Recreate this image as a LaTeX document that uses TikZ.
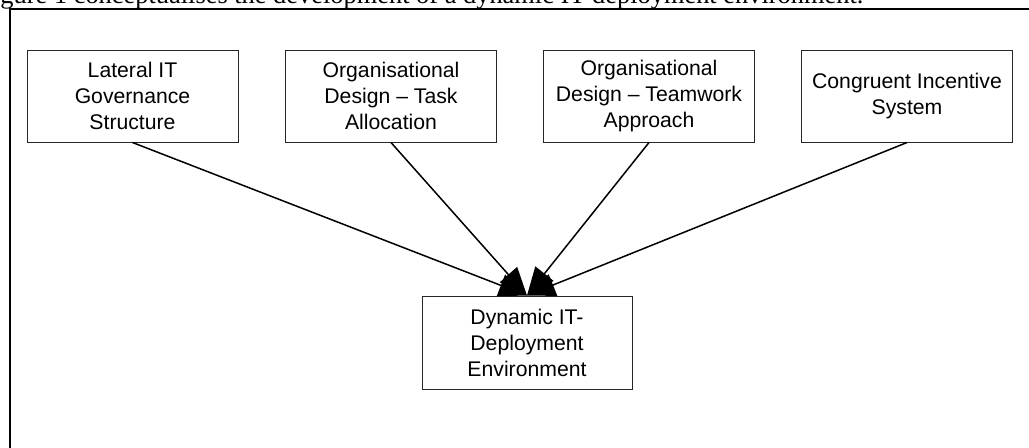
\documentclass[tikz,border=0pt]{standalone}
\usepackage{fontspec}
\setmainfont{Liberation Serif}
\setsansfont{Liberation Sans}
\usetikzlibrary{arrows.meta}

\tikzset{every picture/.style={line width=0.5pt}}
\tikzset{
  factor/.style={draw=black!85, fill=white, align=center, inner sep=0pt,
    minimum width=105.5pt, minimum height=46pt,
    font=\sffamily\fontsize{10.6}{13}\selectfont},
  outcome/.style={factor, minimum width=105pt, minimum height=46.5pt},
  influence/.style={draw=black, line width=0.75pt, -{Triangle[length=14pt,width=11.5pt]}},
  frameline/.style={line width=1pt, line cap=rect},
  captiontext/.style={anchor=base west, inner sep=0pt,
    font=\rmfamily\fontsize{13.2}{15}\selectfont}
}

\begin{document}
\begin{tikzpicture}[x=0.5pt,y=0.5pt,yscale=-1,xscale=1]
\useasboundingbox (0,0) rectangle (1029,447);

% Text Node
\node[captiontext] (caption) at (0,3.5) {gure 1 conceptualises the development of a dynamic IT deployment environment.};

%Straight Lines
\draw[frameline] (1040,9) -- (10,9) -- (10,460);

%Shape: Rectangle
\node[factor] (lateral) at (132.5,96) {Lateral IT\\Governance\\Structure};
%Shape: Rectangle
\node[factor] (task) at (391,96) {Organisational\\Design -- Task\\Allocation};
%Shape: Rectangle
\node[factor] (teamwork) at (649,96) {Organisational\\Design -- Teamwork\\Approach};
%Shape: Rectangle
\node[factor] (incentive) at (907,96) {Congruent Incentive\\System};

%Shape: Rectangle
\node[outcome] (dynamic) at (527,342.5) {Dynamic IT-\\Deployment\\Environment};

%Straight Lines
\foreach \src in {lateral,task,teamwork,incentive}
  \draw[influence] (\src.south) -- (dynamic.north);

\end{tikzpicture}
\end{document}
